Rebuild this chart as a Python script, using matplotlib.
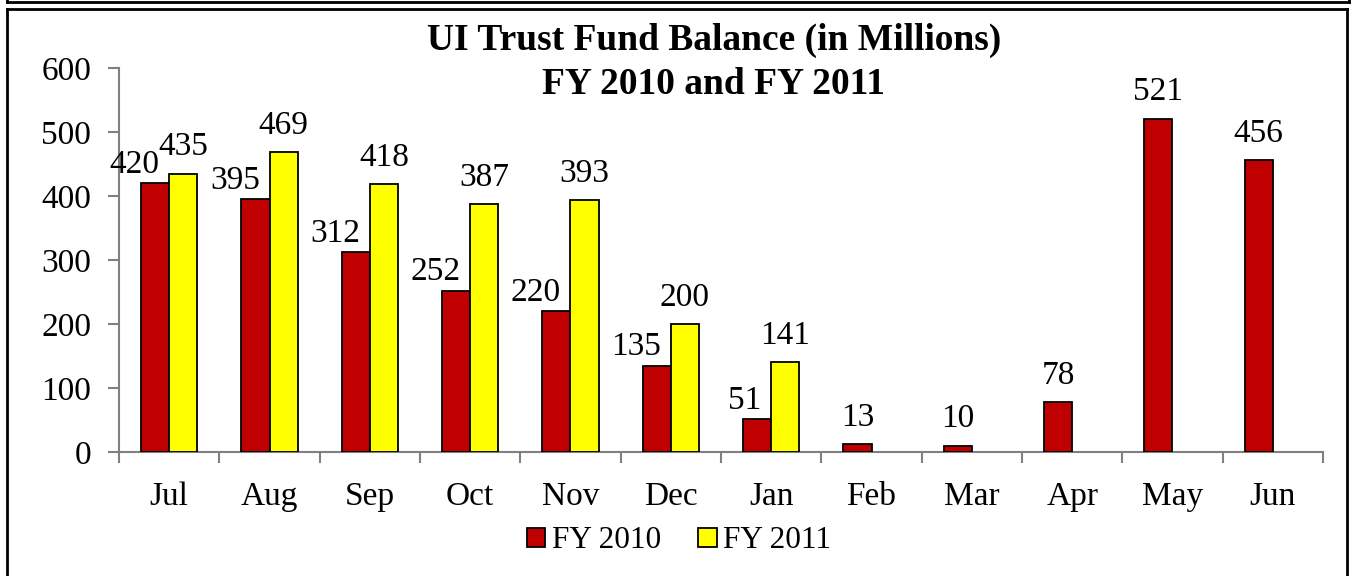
import matplotlib
matplotlib.use("Agg")
import matplotlib.pyplot as plt
from matplotlib.lines import Line2D
from matplotlib.patches import Patch
import numpy as np

months = ["Jul", "Aug", "Sep", "Oct", "Nov", "Dec", "Jan", "Feb", "Mar", "Apr", "May", "Jun"]
fy2010 = [420, 395, 312, 252, 220, 135, 51, 13, 10, 78, 521, 456]
fy2011 = [435, 469, 418, 387, 393, 200, 141]
series_names = ["FY 2010", "FY 2011"]
title_lines = ["UI Trust Fund Balance (in Millions)", "FY 2010 and FY 2011"]
yticks = [0, 100, 200, 300, 400, 500, 600]

RED = "#C00000"
YEL = "#FFFF00"
GRAY = "#808080"
W, H = 1351, 576
FS = 24

plt.rcParams["font.family"] = ["Liberation Serif", "DejaVu Serif"]
fig = plt.figure(figsize=(W / 100, H / 100), dpi=100)

ax = fig.add_axes([119 / W, 124 / H, (1323 - 119) / W, (452 - 68) / H])
x = np.arange(len(months))
bw = 0.28
ax.bar(x - bw / 2, fy2010, bw, color=RED, edgecolor="black", linewidth=1.3, zorder=3)
x2 = np.arange(len(fy2011))
ax.bar(x2 + bw / 2, fy2011, bw, color=YEL, edgecolor="black", linewidth=1.3, zorder=3)

ax.set_xlim(-0.5, len(months) - 0.5)
ax.set_ylim(0, 600)
ax.set_yticks(yticks)
ax.set_yticklabels([str(t) for t in yticks], fontsize=FS)
ax.set_xticks(np.arange(len(months) + 1) - 0.5)
ax.set_xticklabels([])
ax.set_xticks(x, minor=True)
ax.set_xticklabels(months, minor=True, fontsize=FS)
ax.tick_params(axis="x", which="major", direction="out", length=8, width=1.5, color=GRAY)
ax.tick_params(axis="x", which="minor", length=0, pad=21)
ax.tick_params(axis="y", direction="out", length=8, width=1.5, color=GRAY, pad=12)
for s in ["top", "right"]:
    ax.spines[s].set_visible(False)
for s in ["left", "bottom"]:
    ax.spines[s].set_color(GRAY)
    ax.spines[s].set_linewidth(1.5)

# data labels
n2 = len(fy2011)
for i, v in enumerate(fy2010):
    if i < n2:
        ax.annotate(str(v), (i, v), xytext=(-7, 2.5), textcoords="offset points",
                    ha="right", va="bottom", fontsize=FS)
    else:
        ax.annotate(str(v), (i - bw / 2, v), xytext=(0, 8), textcoords="offset points",
                    ha="center", va="bottom", fontsize=FS)
for i, v in enumerate(fy2011):
    ax.annotate(str(v), (i + bw / 2, v), xytext=(0, 8), textcoords="offset points",
                ha="center", va="bottom", fontsize=FS)

# title
fig.text(714 / W, 1 - 40 / H, title_lines[0], ha="center", va="center",
         fontsize=27, fontweight="bold")
fig.text(714 / W, 1 - 85 / H, title_lines[1], ha="center", va="center",
         fontsize=27, fontweight="bold")

# legend
handles = [Patch(facecolor=RED, edgecolor="black", linewidth=1.3),
           Patch(facecolor=YEL, edgecolor="black", linewidth=1.3)]
fig.legend(handles, series_names, loc="center", bbox_to_anchor=(679 / W, 1 - 541 / H),
           ncol=2, frameon=False, fontsize=22.5, handlelength=0.6, handleheight=0.6,
           handletextpad=0.2, columnspacing=1.2, borderpad=0)

# frame lines
def fline(xs, ys, lw=2):
    fig.add_artist(Line2D([a / W for a in xs], [1 - b / H for b in ys],
                          transform=fig.transFigure, color="black", linewidth=lw))

fline([7, 1349], [2, 2])
fline([7, 7], [0, 2])
fline([1349, 1349], [0, 2])
fline([7, 1347], [9, 9])
fline([7, 7], [9, 576])
fline([1347, 1347], [9, 576])

fig.savefig("out.png", dpi=100)
